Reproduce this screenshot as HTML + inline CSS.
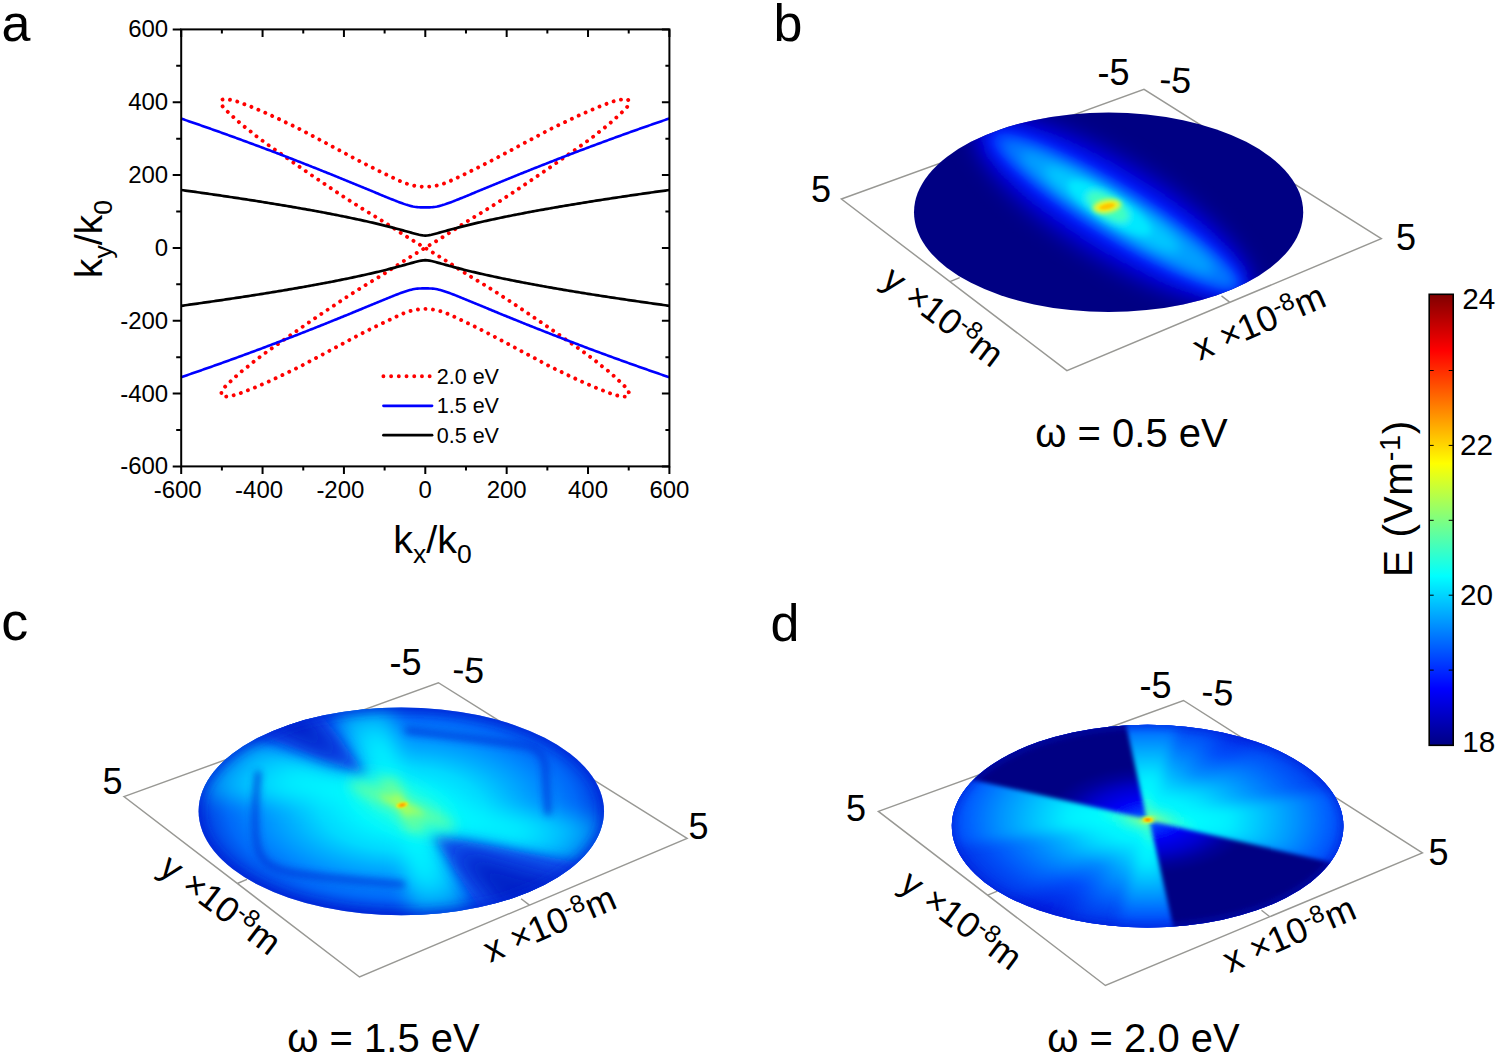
<!DOCTYPE html>
<html><head><meta charset="utf-8"><title>figure</title>
<style>
html,body{margin:0;padding:0;background:#fff;}
body{width:1500px;height:1056px;overflow:hidden;}
svg{display:block;font-family:"Liberation Sans",sans-serif;fill:#000;}
</style></head><body>
<svg width="1500" height="1056" viewBox="0 0 1500 1056">
<rect width="1500" height="1056" fill="#fff"/>

<defs>
<filter id="b2" x="-30%" y="-30%" width="160%" height="160%"><feGaussianBlur stdDeviation="2"/></filter>
<filter id="b3" x="-30%" y="-30%" width="160%" height="160%"><feGaussianBlur stdDeviation="3.5"/></filter>
<filter id="b6" x="-30%" y="-30%" width="160%" height="160%"><feGaussianBlur stdDeviation="6"/></filter>
<filter id="b10" x="-40%" y="-40%" width="180%" height="180%"><feGaussianBlur stdDeviation="10"/></filter>
<filter id="b16" x="-50%" y="-50%" width="200%" height="200%"><feGaussianBlur stdDeviation="16"/></filter>
<filter id="b1" x="-30%" y="-30%" width="160%" height="160%"><feGaussianBlur stdDeviation="1"/></filter>
<clipPath id="clb"><ellipse cx="1108.6" cy="212.3" rx="194.6" ry="99.7"/></clipPath>
<clipPath id="clc"><ellipse cx="401.3" cy="811.3" rx="202.7" ry="103.9"/></clipPath>
<clipPath id="cld"><ellipse cx="1147.6" cy="826.1" rx="195.8" ry="101.3"/></clipPath>
<linearGradient id="jet" x1="0" y1="1" x2="0" y2="0">
<stop offset="0" stop-color="#000083"/><stop offset="0.125" stop-color="#0000ff"/><stop offset="0.375" stop-color="#00ffff"/>
<stop offset="0.625" stop-color="#ffff00"/><stop offset="0.875" stop-color="#ff0000"/><stop offset="1" stop-color="#800000"/>
</linearGradient>

<radialGradient id="cA" gradientUnits="userSpaceOnUse" cx="0" cy="0" r="205" gradientTransform="translate(402.1 809.1) scale(1 0.5126)">
<stop offset="0" stop-color="#00ffff"/><stop offset="0.22" stop-color="#00f4ff"/><stop offset="0.4" stop-color="#00d8ff"/><stop offset="0.55" stop-color="#00b0ff"/><stop offset="0.7" stop-color="#008cff"/><stop offset="0.85" stop-color="#0068f8"/><stop offset="0.95" stop-color="#0046e6"/><stop offset="1" stop-color="#0030dc"/>
</radialGradient>
<radialGradient id="cB" gradientUnits="userSpaceOnUse" cx="0" cy="0" r="205" gradientTransform="translate(402.1 809.1) scale(1 0.5126)">
<stop offset="0" stop-color="#40ffd0"/><stop offset="0.25" stop-color="#00ffff"/><stop offset="0.62" stop-color="#00ecff"/><stop offset="0.85" stop-color="#00b8ff"/><stop offset="1" stop-color="#0070f0"/>
</radialGradient>

<radialGradient id="dA" gradientUnits="userSpaceOnUse" cx="0" cy="0" r="200" gradientTransform="translate(1148.0 819.8) scale(1 0.517)">
<stop offset="0" stop-color="#80ff90"/><stop offset="0.1" stop-color="#30ffd0"/><stop offset="0.18" stop-color="#00ffff"/><stop offset="0.4" stop-color="#00f0ff"/><stop offset="0.58" stop-color="#00c0ff"/><stop offset="0.75" stop-color="#0090ff"/><stop offset="0.9" stop-color="#0060ff"/><stop offset="1" stop-color="#0040f4"/>
</radialGradient>
<radialGradient id="dB" gradientUnits="userSpaceOnUse" cx="0" cy="0" r="200" gradientTransform="translate(1148.0 819.8) scale(1 0.517)">
<stop offset="0" stop-color="#00ffff"/><stop offset="0.28" stop-color="#00f0ff"/><stop offset="0.42" stop-color="#00c0ff"/><stop offset="0.58" stop-color="#0090ff"/><stop offset="0.8" stop-color="#0058fc"/><stop offset="1" stop-color="#0030e8"/>
</radialGradient>
<radialGradient id="dC" gradientUnits="userSpaceOnUse" cx="0" cy="0" r="200" gradientTransform="translate(1148.0 819.8) scale(1 0.517)">
<stop offset="0" stop-color="#00ffff"/><stop offset="0.22" stop-color="#00f0ff"/><stop offset="0.36" stop-color="#00b8ff"/><stop offset="0.5" stop-color="#0080ff"/><stop offset="0.72" stop-color="#0048fa"/><stop offset="1" stop-color="#0020e0"/>
</radialGradient>
<radialGradient id="dW" gradientUnits="userSpaceOnUse" cx="0" cy="0" r="200" gradientTransform="translate(1148.0 819.8) scale(1 0.517)">
<stop offset="0" stop-color="#0080ff"/><stop offset="0.08" stop-color="#0038ff"/><stop offset="0.19" stop-color="#0004f6"/><stop offset="0.31" stop-color="#0000d0"/><stop offset="0.43" stop-color="#00009a"/><stop offset="0.52" stop-color="#000083"/>
</radialGradient>
</defs>


<g id="pa">
<g fill="none" stroke-linejoin="round">
<path d="M221.30,101.30 L222.24,99.64 L224.03,99.10 L225.89,99.18 L227.77,99.39 L229.66,99.68 L231.52,100.00 L233.36,100.39 L235.18,100.90 L236.99,101.47 L238.78,102.06 L240.56,102.68 L242.32,103.35 L244.08,104.05 L245.83,104.74 L247.60,105.41 L249.36,106.08 L251.12,106.75 L252.87,107.45 L254.62,108.17 L256.35,108.91 L258.08,109.67 L259.81,110.42 L261.54,111.16 L263.28,111.89 L265.02,112.63 L266.75,113.39 L268.46,114.16 L270.18,114.95 L271.88,115.75 L273.59,116.56 L275.30,117.36 L277.01,118.16 L278.71,118.96 L280.42,119.77 L282.12,120.59 L283.81,121.41 L285.51,122.24 L287.21,123.06 L288.91,123.87 L290.62,124.67 L292.33,125.46 L294.03,126.27 L295.72,127.11 L297.41,127.95 L299.09,128.81 L300.77,129.67 L302.44,130.54 L304.11,131.42 L305.77,132.30 L307.44,133.19 L309.10,134.08 L310.76,134.98 L312.42,135.87 L314.08,136.77 L315.75,137.66 L317.41,138.56 L319.07,139.45 L320.73,140.33 L322.40,141.22 L324.07,142.10 L325.73,142.99 L327.39,143.88 L329.06,144.77 L330.72,145.66 L332.38,146.56 L334.04,147.45 L335.70,148.35 L337.36,149.24 L339.02,150.14 L340.68,151.03 L342.34,151.93 L344.00,152.82 L345.67,153.72 L347.33,154.61 L348.99,155.50 L350.65,156.39 L352.32,157.28 L353.98,158.16 L355.65,159.05 L357.32,159.93 L358.99,160.80 L360.66,161.67 L362.33,162.54 L364.01,163.41 L365.69,164.27 L367.36,165.13 L369.05,165.98 L370.73,166.83 L372.42,167.67 L374.10,168.52 L375.79,169.36 L377.48,170.19 L379.18,171.02 L380.87,171.85 L382.57,172.68 L384.26,173.50 L385.96,174.32 L387.66,175.14 L389.36,175.95 L391.07,176.76 L392.77,177.57 L394.48,178.37 L396.19,179.18 L397.89,179.99 L399.60,180.79 L401.32,181.55 L403.07,182.27 L404.83,182.96 L406.60,183.62 L408.39,184.22 L410.19,184.73 L412.02,185.21 L413.86,185.65 L415.72,186.01 L417.58,186.27 L419.45,186.49 L421.32,186.68 L423.21,186.82 L425.10,186.90 L426.99,186.82 L428.88,186.68 L430.75,186.49 L432.62,186.27 L434.48,186.01 L436.34,185.65 L438.18,185.21 L440.01,184.73 L441.81,184.22 L443.60,183.62 L445.37,182.96 L447.13,182.27 L448.88,181.55 L450.60,180.79 L452.31,179.99 L454.01,179.18 L455.72,178.37 L457.43,177.57 L459.13,176.76 L460.84,175.95 L462.54,175.14 L464.24,174.32 L465.94,173.50 L467.63,172.68 L469.33,171.85 L471.02,171.02 L472.72,170.19 L474.41,169.36 L476.10,168.52 L477.78,167.67 L479.47,166.83 L481.15,165.98 L482.84,165.13 L484.51,164.27 L486.19,163.41 L487.87,162.54 L489.54,161.67 L491.21,160.80 L492.88,159.93 L494.55,159.05 L496.22,158.16 L497.88,157.28 L499.55,156.39 L501.21,155.50 L502.87,154.61 L504.53,153.72 L506.20,152.82 L507.86,151.93 L509.52,151.03 L511.18,150.14 L512.84,149.24 L514.50,148.35 L516.16,147.45 L517.82,146.56 L519.48,145.66 L521.14,144.77 L522.81,143.88 L524.47,142.99 L526.13,142.10 L527.80,141.22 L529.47,140.33 L531.13,139.45 L532.79,138.56 L534.45,137.66 L536.12,136.77 L537.78,135.87 L539.44,134.98 L541.10,134.08 L542.76,133.19 L544.43,132.30 L546.09,131.42 L547.76,130.54 L549.43,129.67 L551.11,128.81 L552.79,127.95 L554.48,127.11 L556.17,126.27 L557.87,125.46 L559.58,124.67 L561.29,123.87 L562.99,123.06 L564.69,122.24 L566.39,121.41 L568.08,120.59 L569.78,119.77 L571.49,118.96 L573.19,118.16 L574.90,117.36 L576.61,116.56 L578.32,115.75 L580.02,114.95 L581.74,114.16 L583.45,113.39 L585.18,112.63 L586.92,111.89 L588.66,111.16 L590.39,110.42 L592.12,109.67 L593.85,108.91 L595.58,108.17 L597.33,107.45 L599.08,106.75 L600.84,106.08 L602.60,105.41 L604.37,104.74 L606.12,104.05 L607.88,103.35 L609.64,102.68 L611.42,102.06 L613.21,101.47 L615.02,100.90 L616.84,100.39 L618.68,100.00 L620.54,99.68 L622.43,99.39 L624.31,99.18 L626.17,99.10 L627.96,99.64 L628.90,101.30 L628.77,103.46 L628.30,105.36 L627.07,107.08 L625.46,108.71 L623.93,110.29 L622.46,111.80 L620.91,113.26 L619.34,114.71 L617.79,116.16 L616.24,117.62 L614.68,119.06 L613.11,120.49 L611.52,121.90 L609.92,123.30 L608.30,124.67 L606.66,126.01 L604.97,127.31 L603.27,128.58 L601.58,129.87 L599.94,131.22 L598.31,132.59 L596.69,133.96 L595.03,135.29 L593.35,136.58 L591.64,137.84 L589.93,139.11 L588.23,140.37 L586.52,141.64 L584.81,142.90 L583.09,144.15 L581.36,145.38 L579.63,146.60 L577.88,147.82 L576.15,149.04 L574.41,150.26 L572.67,151.48 L570.93,152.70 L569.19,153.92 L567.45,155.15 L565.71,156.37 L563.98,157.59 L562.24,158.81 L560.50,160.03 L558.76,161.25 L557.02,162.47 L555.28,163.68 L553.53,164.90 L551.79,166.11 L550.05,167.33 L548.30,168.54 L546.56,169.75 L544.81,170.96 L543.06,172.16 L541.31,173.37 L539.56,174.57 L537.81,175.77 L536.05,176.96 L534.29,178.16 L532.54,179.35 L530.78,180.54 L529.02,181.73 L527.26,182.92 L525.50,184.10 L523.73,185.29 L521.97,186.48 L520.20,187.66 L518.44,188.84 L516.67,190.02 L514.90,191.20 L513.14,192.38 L511.36,193.55 L509.59,194.72 L507.82,195.89 L506.04,197.06 L504.27,198.22 L502.49,199.39 L500.71,200.54 L498.92,201.70 L497.14,202.85 L495.35,204.00 L493.56,205.14 L491.77,206.28 L489.98,207.42 L488.18,208.55 L486.38,209.67 L484.57,210.78 L482.75,211.89 L480.93,212.98 L479.11,214.08 L477.29,215.17 L475.47,216.27 L473.65,217.37 L471.84,218.48 L470.03,219.59 L468.23,220.72 L466.44,221.86 L464.64,223.00 L462.86,224.14 L461.07,225.30 L459.29,226.45 L457.51,227.61 L455.72,228.77 L453.94,229.92 L452.16,231.08 L450.38,232.24 L448.59,233.39 L446.80,234.53 L445.01,235.68 L443.22,236.81 L441.42,237.94 L439.61,239.06 L437.81,240.18 L436.00,241.29 L434.19,242.40 L432.37,243.51 L430.56,244.61 L428.74,245.71 L426.92,246.81 L425.10,247.90 L423.28,248.99 L421.46,250.09 L419.64,251.19 L417.83,252.29 L416.01,253.40 L414.20,254.51 L412.39,255.62 L410.59,256.74 L408.78,257.86 L406.98,258.99 L405.19,260.12 L403.40,261.27 L401.61,262.41 L399.82,263.56 L398.04,264.72 L396.26,265.88 L394.48,267.03 L392.69,268.19 L390.91,269.35 L389.13,270.50 L387.34,271.66 L385.56,272.80 L383.76,273.94 L381.97,275.08 L380.17,276.21 L378.36,277.32 L376.55,278.43 L374.73,279.53 L372.91,280.63 L371.09,281.72 L369.27,282.82 L367.45,283.91 L365.63,285.02 L363.82,286.13 L362.02,287.25 L360.22,288.38 L358.43,289.52 L356.64,290.66 L354.85,291.80 L353.06,292.95 L351.28,294.10 L349.49,295.26 L347.71,296.41 L345.93,297.58 L344.16,298.74 L342.38,299.91 L340.61,301.08 L338.84,302.25 L337.06,303.42 L335.30,304.60 L333.53,305.78 L331.76,306.96 L330.00,308.14 L328.23,309.32 L326.47,310.51 L324.70,311.70 L322.94,312.88 L321.18,314.07 L319.42,315.26 L317.66,316.45 L315.91,317.64 L314.15,318.84 L312.39,320.03 L310.64,321.23 L308.89,322.43 L307.14,323.64 L305.39,324.84 L303.64,326.05 L301.90,327.26 L300.15,328.47 L298.41,329.69 L296.67,330.90 L294.92,332.12 L293.18,333.33 L291.44,334.55 L289.70,335.77 L287.96,336.99 L286.22,338.21 L284.49,339.43 L282.75,340.65 L281.01,341.88 L279.27,343.10 L277.53,344.32 L275.79,345.54 L274.05,346.76 L272.32,347.98 L270.57,349.20 L268.84,350.42 L267.11,351.65 L265.39,352.90 L263.68,354.16 L261.97,355.43 L260.27,356.69 L258.56,357.96 L256.85,359.22 L255.17,360.51 L253.51,361.84 L251.89,363.21 L250.26,364.58 L248.62,365.93 L246.93,367.22 L245.23,368.49 L243.54,369.79 L241.90,371.13 L240.28,372.50 L238.68,373.90 L237.09,375.31 L235.52,376.74 L233.96,378.18 L232.41,379.64 L230.86,381.09 L229.29,382.54 L227.74,384.00 L226.27,385.51 L224.74,387.09 L223.13,388.72 L221.90,390.44 L221.43,392.34 L221.30,394.50 L222.24,396.16 L224.03,396.70 L225.89,396.62 L227.77,396.41 L229.66,396.12 L231.52,395.80 L233.36,395.41 L235.18,394.90 L236.99,394.33 L238.78,393.74 L240.56,393.12 L242.32,392.45 L244.08,391.75 L245.83,391.06 L247.60,390.39 L249.36,389.72 L251.12,389.05 L252.87,388.35 L254.62,387.63 L256.35,386.89 L258.08,386.13 L259.81,385.38 L261.54,384.64 L263.28,383.91 L265.02,383.17 L266.75,382.41 L268.46,381.64 L270.18,380.85 L271.88,380.05 L273.59,379.24 L275.30,378.44 L277.01,377.64 L278.71,376.84 L280.42,376.03 L282.12,375.21 L283.81,374.39 L285.51,373.56 L287.21,372.74 L288.91,371.93 L290.62,371.13 L292.33,370.34 L294.03,369.53 L295.72,368.69 L297.41,367.85 L299.09,366.99 L300.77,366.13 L302.44,365.26 L304.11,364.38 L305.77,363.50 L307.44,362.61 L309.10,361.72 L310.76,360.82 L312.42,359.93 L314.08,359.03 L315.75,358.14 L317.41,357.24 L319.07,356.35 L320.73,355.47 L322.40,354.58 L324.07,353.70 L325.73,352.81 L327.39,351.92 L329.06,351.03 L330.72,350.14 L332.38,349.24 L334.04,348.35 L335.70,347.45 L337.36,346.56 L339.02,345.66 L340.68,344.77 L342.34,343.87 L344.00,342.98 L345.67,342.08 L347.33,341.19 L348.99,340.30 L350.65,339.41 L352.32,338.52 L353.98,337.64 L355.65,336.75 L357.32,335.87 L358.99,335.00 L360.66,334.13 L362.33,333.26 L364.01,332.39 L365.69,331.53 L367.36,330.67 L369.05,329.82 L370.73,328.97 L372.42,328.13 L374.10,327.28 L375.79,326.44 L377.48,325.61 L379.18,324.78 L380.87,323.95 L382.57,323.12 L384.26,322.30 L385.96,321.48 L387.66,320.66 L389.36,319.85 L391.07,319.04 L392.77,318.23 L394.48,317.43 L396.19,316.62 L397.89,315.81 L399.60,315.01 L401.32,314.25 L403.07,313.53 L404.83,312.84 L406.60,312.18 L408.39,311.58 L410.19,311.07 L412.02,310.59 L413.86,310.15 L415.72,309.79 L417.58,309.53 L419.45,309.31 L421.32,309.12 L423.21,308.98 L425.10,308.90 L426.99,308.98 L428.88,309.12 L430.75,309.31 L432.62,309.53 L434.48,309.79 L436.34,310.15 L438.18,310.59 L440.01,311.07 L441.81,311.58 L443.60,312.18 L445.37,312.84 L447.13,313.53 L448.88,314.25 L450.60,315.01 L452.31,315.81 L454.01,316.62 L455.72,317.43 L457.43,318.23 L459.13,319.04 L460.84,319.85 L462.54,320.66 L464.24,321.48 L465.94,322.30 L467.63,323.12 L469.33,323.95 L471.02,324.78 L472.72,325.61 L474.41,326.44 L476.10,327.28 L477.78,328.13 L479.47,328.97 L481.15,329.82 L482.84,330.67 L484.51,331.53 L486.19,332.39 L487.87,333.26 L489.54,334.13 L491.21,335.00 L492.88,335.87 L494.55,336.75 L496.22,337.64 L497.88,338.52 L499.55,339.41 L501.21,340.30 L502.87,341.19 L504.53,342.08 L506.20,342.98 L507.86,343.87 L509.52,344.77 L511.18,345.66 L512.84,346.56 L514.50,347.45 L516.16,348.35 L517.82,349.24 L519.48,350.14 L521.14,351.03 L522.81,351.92 L524.47,352.81 L526.13,353.70 L527.80,354.58 L529.47,355.47 L531.13,356.35 L532.79,357.24 L534.45,358.14 L536.12,359.03 L537.78,359.93 L539.44,360.82 L541.10,361.72 L542.76,362.61 L544.43,363.50 L546.09,364.38 L547.76,365.26 L549.43,366.13 L551.11,366.99 L552.79,367.85 L554.48,368.69 L556.17,369.53 L557.87,370.34 L559.58,371.13 L561.29,371.93 L562.99,372.74 L564.69,373.56 L566.39,374.39 L568.08,375.21 L569.78,376.03 L571.49,376.84 L573.19,377.64 L574.90,378.44 L576.61,379.24 L578.32,380.05 L580.02,380.85 L581.74,381.64 L583.45,382.41 L585.18,383.17 L586.92,383.91 L588.66,384.64 L590.39,385.38 L592.12,386.13 L593.85,386.89 L595.58,387.63 L597.33,388.35 L599.08,389.05 L600.84,389.72 L602.60,390.39 L604.37,391.06 L606.12,391.75 L607.88,392.45 L609.64,393.12 L611.42,393.74 L613.21,394.33 L615.02,394.90 L616.84,395.41 L618.68,395.80 L620.54,396.12 L622.43,396.41 L624.31,396.62 L626.17,396.70 L627.96,396.16 L628.90,394.50 L628.77,392.34 L628.30,390.44 L627.07,388.72 L625.46,387.09 L623.93,385.51 L622.46,384.00 L620.91,382.54 L619.34,381.09 L617.79,379.64 L616.24,378.18 L614.68,376.74 L613.11,375.31 L611.52,373.90 L609.92,372.50 L608.30,371.13 L606.66,369.79 L604.97,368.49 L603.27,367.22 L601.58,365.93 L599.94,364.58 L598.31,363.21 L596.69,361.84 L595.03,360.51 L593.35,359.22 L591.64,357.96 L589.93,356.69 L588.23,355.43 L586.52,354.16 L584.81,352.90 L583.09,351.65 L581.36,350.42 L579.63,349.20 L577.88,347.98 L576.15,346.76 L574.41,345.54 L572.67,344.32 L570.93,343.10 L569.19,341.88 L567.45,340.65 L565.71,339.43 L563.98,338.21 L562.24,336.99 L560.50,335.77 L558.76,334.55 L557.02,333.33 L555.28,332.12 L553.53,330.90 L551.79,329.69 L550.05,328.47 L548.30,327.26 L546.56,326.05 L544.81,324.84 L543.06,323.64 L541.31,322.43 L539.56,321.23 L537.81,320.03 L536.05,318.84 L534.29,317.64 L532.54,316.45 L530.78,315.26 L529.02,314.07 L527.26,312.88 L525.50,311.70 L523.73,310.51 L521.97,309.32 L520.20,308.14 L518.44,306.96 L516.67,305.78 L514.90,304.60 L513.14,303.42 L511.36,302.25 L509.59,301.08 L507.82,299.91 L506.04,298.74 L504.27,297.58 L502.49,296.41 L500.71,295.26 L498.92,294.10 L497.14,292.95 L495.35,291.80 L493.56,290.66 L491.77,289.52 L489.98,288.38 L488.18,287.25 L486.38,286.13 L484.57,285.02 L482.75,283.91 L480.93,282.82 L479.11,281.72 L477.29,280.63 L475.47,279.53 L473.65,278.43 L471.84,277.32 L470.03,276.21 L468.23,275.08 L466.44,273.94 L464.64,272.80 L462.86,271.66 L461.07,270.50 L459.29,269.35 L457.51,268.19 L455.72,267.03 L453.94,265.88 L452.16,264.72 L450.38,263.56 L448.59,262.41 L446.80,261.27 L445.01,260.12 L443.22,258.99 L441.42,257.86 L439.61,256.74 L437.81,255.62 L436.00,254.51 L434.19,253.40 L432.37,252.29 L430.56,251.19 L428.74,250.09 L426.92,248.99 L425.10,247.90 L423.28,246.81 L421.46,245.71 L419.64,244.61 L417.83,243.51 L416.01,242.40 L414.20,241.29 L412.39,240.18 L410.59,239.06 L408.78,237.94 L406.98,236.81 L405.19,235.68 L403.40,234.53 L401.61,233.39 L399.82,232.24 L398.04,231.08 L396.26,229.92 L394.48,228.77 L392.69,227.61 L390.91,226.45 L389.13,225.30 L387.34,224.14 L385.56,223.00 L383.76,221.86 L381.97,220.72 L380.17,219.59 L378.36,218.48 L376.55,217.37 L374.73,216.27 L372.91,215.17 L371.09,214.08 L369.27,212.98 L367.45,211.89 L365.63,210.78 L363.82,209.67 L362.02,208.55 L360.22,207.42 L358.43,206.28 L356.64,205.14 L354.85,204.00 L353.06,202.85 L351.28,201.70 L349.49,200.54 L347.71,199.39 L345.93,198.22 L344.16,197.06 L342.38,195.89 L340.61,194.72 L338.84,193.55 L337.06,192.38 L335.30,191.20 L333.53,190.02 L331.76,188.84 L330.00,187.66 L328.23,186.48 L326.47,185.29 L324.70,184.10 L322.94,182.92 L321.18,181.73 L319.42,180.54 L317.66,179.35 L315.91,178.16 L314.15,176.96 L312.39,175.77 L310.64,174.57 L308.89,173.37 L307.14,172.16 L305.39,170.96 L303.64,169.75 L301.90,168.54 L300.15,167.33 L298.41,166.11 L296.67,164.90 L294.92,163.68 L293.18,162.47 L291.44,161.25 L289.70,160.03 L287.96,158.81 L286.22,157.59 L284.49,156.37 L282.75,155.15 L281.01,153.92 L279.27,152.70 L277.53,151.48 L275.79,150.26 L274.05,149.04 L272.32,147.82 L270.57,146.60 L268.84,145.38 L267.11,144.15 L265.39,142.90 L263.68,141.64 L261.97,140.37 L260.27,139.11 L258.56,137.84 L256.85,136.58 L255.17,135.29 L253.51,133.96 L251.89,132.59 L250.26,131.22 L248.62,129.87 L246.93,128.58 L245.23,127.31 L243.54,126.01 L241.90,124.67 L240.28,123.30 L238.68,121.90 L237.09,120.49 L235.52,119.06 L233.96,117.62 L232.41,116.16 L230.86,114.71 L229.29,113.26 L227.74,111.80 L226.27,110.29 L224.74,108.71 L223.13,107.08 L221.90,105.36 L221.43,103.46 L221.30,101.30Z" stroke="#ff0000" stroke-width="3.9" stroke-linecap="round" stroke-dasharray="0.01 7.5377" stroke-dashoffset="-2.2"/>
<path d="M181.00,118.56 L182.53,119.08 L184.05,119.60 L185.58,120.12 L187.10,120.64 L188.63,121.16 L190.15,121.69 L191.68,122.21 L193.21,122.74 L194.73,123.27 L196.26,123.79 L197.78,124.32 L199.31,124.85 L200.83,125.39 L202.36,125.92 L203.88,126.45 L205.41,126.99 L206.94,127.52 L208.46,128.06 L209.99,128.59 L211.51,129.13 L213.04,129.67 L214.56,130.21 L216.09,130.75 L217.62,131.30 L219.14,131.84 L220.67,132.38 L222.19,132.93 L223.72,133.47 L225.24,134.02 L226.77,134.57 L228.29,135.12 L229.82,135.67 L231.35,136.22 L232.87,136.77 L234.40,137.33 L235.92,137.88 L237.45,138.44 L238.97,138.99 L240.50,139.55 L242.03,140.11 L243.55,140.67 L245.08,141.23 L246.60,141.79 L248.13,142.35 L249.65,142.91 L251.18,143.48 L252.70,144.04 L254.23,144.61 L255.76,145.17 L257.28,145.74 L258.81,146.31 L260.33,146.88 L261.86,147.45 L263.38,148.03 L264.91,148.60 L266.44,149.17 L267.96,149.75 L269.49,150.32 L271.01,150.90 L272.54,151.48 L274.06,152.06 L275.59,152.64 L277.11,153.22 L278.64,153.80 L280.17,154.38 L281.69,154.97 L283.22,155.55 L284.74,156.14 L286.27,156.72 L287.79,157.31 L289.32,157.90 L290.85,158.49 L292.37,159.08 L293.90,159.67 L295.42,160.26 L296.95,160.86 L298.47,161.45 L300.00,162.05 L301.52,162.64 L303.05,163.24 L304.58,163.84 L306.10,164.44 L307.63,165.04 L309.15,165.64 L310.68,166.24 L312.20,166.85 L313.73,167.45 L315.25,168.06 L316.78,168.66 L318.31,169.27 L319.83,169.88 L321.36,170.49 L322.88,171.10 L324.41,171.71 L325.93,172.32 L327.46,172.93 L328.99,173.54 L330.51,174.16 L332.04,174.77 L333.56,175.39 L335.09,176.01 L336.61,176.62 L338.14,177.24 L339.67,177.86 L341.19,178.48 L342.72,179.10 L344.24,179.73 L345.77,180.35 L347.29,180.97 L348.82,181.60 L350.34,182.22 L351.87,182.85 L353.40,183.48 L354.92,184.10 L356.45,184.73 L357.97,185.36 L359.50,185.99 L361.02,186.62 L362.55,187.25 L364.08,187.88 L365.60,188.51 L367.13,189.14 L368.65,189.77 L370.18,190.41 L371.70,191.04 L373.23,191.67 L374.75,192.30 L376.28,192.94 L377.81,193.57 L379.33,194.20 L380.86,194.83 L382.38,195.46 L383.91,196.09 L385.43,196.71 L386.96,197.34 L388.49,197.96 L390.01,198.58 L391.54,199.19 L393.06,199.81 L394.59,200.41 L396.11,201.01 L397.64,201.60 L399.16,202.18 L400.69,202.75 L402.22,203.31 L403.74,203.85 L405.27,204.36 L406.79,204.86 L408.32,205.32 L409.84,205.74 L411.37,206.13 L412.90,206.46 L414.42,206.74 L415.95,206.97 L417.47,207.15 L419.00,207.27 L420.52,207.34 L422.05,207.38 L423.57,207.40 L425.10,207.40 L426.63,207.40 L428.15,207.38 L429.68,207.34 L431.20,207.27 L432.73,207.15 L434.25,206.97 L435.78,206.74 L437.31,206.46 L438.83,206.13 L440.36,205.74 L441.88,205.32 L443.41,204.86 L444.93,204.36 L446.46,203.85 L447.98,203.31 L449.51,202.75 L451.04,202.18 L452.56,201.60 L454.09,201.01 L455.61,200.41 L457.14,199.81 L458.66,199.19 L460.19,198.58 L461.72,197.96 L463.24,197.34 L464.77,196.71 L466.29,196.09 L467.82,195.46 L469.34,194.83 L470.87,194.20 L472.39,193.57 L473.92,192.94 L475.45,192.30 L476.97,191.67 L478.50,191.04 L480.02,190.41 L481.55,189.77 L483.07,189.14 L484.60,188.51 L486.12,187.88 L487.65,187.25 L489.18,186.62 L490.70,185.99 L492.23,185.36 L493.75,184.73 L495.28,184.10 L496.80,183.48 L498.33,182.85 L499.86,182.22 L501.38,181.60 L502.91,180.97 L504.43,180.35 L505.96,179.73 L507.48,179.10 L509.01,178.48 L510.54,177.86 L512.06,177.24 L513.59,176.62 L515.11,176.01 L516.64,175.39 L518.16,174.77 L519.69,174.16 L521.21,173.54 L522.74,172.93 L524.27,172.32 L525.79,171.71 L527.32,171.10 L528.84,170.49 L530.37,169.88 L531.89,169.27 L533.42,168.66 L534.95,168.06 L536.47,167.45 L538.00,166.85 L539.52,166.24 L541.05,165.64 L542.57,165.04 L544.10,164.44 L545.62,163.84 L547.15,163.24 L548.68,162.64 L550.20,162.05 L551.73,161.45 L553.25,160.86 L554.78,160.26 L556.30,159.67 L557.83,159.08 L559.36,158.49 L560.88,157.90 L562.41,157.31 L563.93,156.72 L565.46,156.14 L566.98,155.55 L568.51,154.97 L570.03,154.38 L571.56,153.80 L573.09,153.22 L574.61,152.64 L576.14,152.06 L577.66,151.48 L579.19,150.90 L580.71,150.32 L582.24,149.75 L583.76,149.17 L585.29,148.60 L586.82,148.03 L588.34,147.45 L589.87,146.88 L591.39,146.31 L592.92,145.74 L594.44,145.17 L595.97,144.61 L597.50,144.04 L599.02,143.48 L600.55,142.91 L602.07,142.35 L603.60,141.79 L605.12,141.23 L606.65,140.67 L608.18,140.11 L609.70,139.55 L611.23,138.99 L612.75,138.44 L614.28,137.88 L615.80,137.33 L617.33,136.77 L618.85,136.22 L620.38,135.67 L621.91,135.12 L623.43,134.57 L624.96,134.02 L626.48,133.47 L628.01,132.93 L629.53,132.38 L631.06,131.84 L632.59,131.30 L634.11,130.75 L635.64,130.21 L637.16,129.67 L638.69,129.13 L640.21,128.59 L641.74,128.06 L643.26,127.52 L644.79,126.99 L646.32,126.45 L647.84,125.92 L649.37,125.39 L650.89,124.85 L652.42,124.32 L653.94,123.79 L655.47,123.27 L657.00,122.74 L658.52,122.21 L660.05,121.69 L661.57,121.16 L663.10,120.64 L664.62,120.12 L666.15,119.60 L667.67,119.08 L669.20,118.56" stroke="#0000ff" stroke-width="2.6"/>
<path d="M181.00,377.24 L182.53,376.72 L184.05,376.20 L185.58,375.68 L187.10,375.16 L188.63,374.64 L190.15,374.11 L191.68,373.59 L193.21,373.06 L194.73,372.53 L196.26,372.01 L197.78,371.48 L199.31,370.95 L200.83,370.41 L202.36,369.88 L203.88,369.35 L205.41,368.81 L206.94,368.28 L208.46,367.74 L209.99,367.21 L211.51,366.67 L213.04,366.13 L214.56,365.59 L216.09,365.05 L217.62,364.50 L219.14,363.96 L220.67,363.42 L222.19,362.87 L223.72,362.33 L225.24,361.78 L226.77,361.23 L228.29,360.68 L229.82,360.13 L231.35,359.58 L232.87,359.03 L234.40,358.47 L235.92,357.92 L237.45,357.36 L238.97,356.81 L240.50,356.25 L242.03,355.69 L243.55,355.13 L245.08,354.57 L246.60,354.01 L248.13,353.45 L249.65,352.89 L251.18,352.32 L252.70,351.76 L254.23,351.19 L255.76,350.63 L257.28,350.06 L258.81,349.49 L260.33,348.92 L261.86,348.35 L263.38,347.77 L264.91,347.20 L266.44,346.63 L267.96,346.05 L269.49,345.48 L271.01,344.90 L272.54,344.32 L274.06,343.74 L275.59,343.16 L277.11,342.58 L278.64,342.00 L280.17,341.42 L281.69,340.83 L283.22,340.25 L284.74,339.66 L286.27,339.08 L287.79,338.49 L289.32,337.90 L290.85,337.31 L292.37,336.72 L293.90,336.13 L295.42,335.54 L296.95,334.94 L298.47,334.35 L300.00,333.75 L301.52,333.16 L303.05,332.56 L304.58,331.96 L306.10,331.36 L307.63,330.76 L309.15,330.16 L310.68,329.56 L312.20,328.95 L313.73,328.35 L315.25,327.74 L316.78,327.14 L318.31,326.53 L319.83,325.92 L321.36,325.31 L322.88,324.70 L324.41,324.09 L325.93,323.48 L327.46,322.87 L328.99,322.26 L330.51,321.64 L332.04,321.03 L333.56,320.41 L335.09,319.79 L336.61,319.18 L338.14,318.56 L339.67,317.94 L341.19,317.32 L342.72,316.70 L344.24,316.07 L345.77,315.45 L347.29,314.83 L348.82,314.20 L350.34,313.58 L351.87,312.95 L353.40,312.32 L354.92,311.70 L356.45,311.07 L357.97,310.44 L359.50,309.81 L361.02,309.18 L362.55,308.55 L364.08,307.92 L365.60,307.29 L367.13,306.66 L368.65,306.03 L370.18,305.39 L371.70,304.76 L373.23,304.13 L374.75,303.50 L376.28,302.86 L377.81,302.23 L379.33,301.60 L380.86,300.97 L382.38,300.34 L383.91,299.71 L385.43,299.09 L386.96,298.46 L388.49,297.84 L390.01,297.22 L391.54,296.61 L393.06,295.99 L394.59,295.39 L396.11,294.79 L397.64,294.20 L399.16,293.62 L400.69,293.05 L402.22,292.49 L403.74,291.95 L405.27,291.44 L406.79,290.94 L408.32,290.48 L409.84,290.06 L411.37,289.67 L412.90,289.34 L414.42,289.06 L415.95,288.83 L417.47,288.65 L419.00,288.53 L420.52,288.46 L422.05,288.42 L423.57,288.40 L425.10,288.40 L426.63,288.40 L428.15,288.42 L429.68,288.46 L431.20,288.53 L432.73,288.65 L434.25,288.83 L435.78,289.06 L437.31,289.34 L438.83,289.67 L440.36,290.06 L441.88,290.48 L443.41,290.94 L444.93,291.44 L446.46,291.95 L447.98,292.49 L449.51,293.05 L451.04,293.62 L452.56,294.20 L454.09,294.79 L455.61,295.39 L457.14,295.99 L458.66,296.61 L460.19,297.22 L461.72,297.84 L463.24,298.46 L464.77,299.09 L466.29,299.71 L467.82,300.34 L469.34,300.97 L470.87,301.60 L472.39,302.23 L473.92,302.86 L475.45,303.50 L476.97,304.13 L478.50,304.76 L480.02,305.39 L481.55,306.03 L483.07,306.66 L484.60,307.29 L486.12,307.92 L487.65,308.55 L489.18,309.18 L490.70,309.81 L492.23,310.44 L493.75,311.07 L495.28,311.70 L496.80,312.32 L498.33,312.95 L499.86,313.58 L501.38,314.20 L502.91,314.83 L504.43,315.45 L505.96,316.07 L507.48,316.70 L509.01,317.32 L510.54,317.94 L512.06,318.56 L513.59,319.18 L515.11,319.79 L516.64,320.41 L518.16,321.03 L519.69,321.64 L521.21,322.26 L522.74,322.87 L524.27,323.48 L525.79,324.09 L527.32,324.70 L528.84,325.31 L530.37,325.92 L531.89,326.53 L533.42,327.14 L534.95,327.74 L536.47,328.35 L538.00,328.95 L539.52,329.56 L541.05,330.16 L542.57,330.76 L544.10,331.36 L545.62,331.96 L547.15,332.56 L548.68,333.16 L550.20,333.75 L551.73,334.35 L553.25,334.94 L554.78,335.54 L556.30,336.13 L557.83,336.72 L559.36,337.31 L560.88,337.90 L562.41,338.49 L563.93,339.08 L565.46,339.66 L566.98,340.25 L568.51,340.83 L570.03,341.42 L571.56,342.00 L573.09,342.58 L574.61,343.16 L576.14,343.74 L577.66,344.32 L579.19,344.90 L580.71,345.48 L582.24,346.05 L583.76,346.63 L585.29,347.20 L586.82,347.77 L588.34,348.35 L589.87,348.92 L591.39,349.49 L592.92,350.06 L594.44,350.63 L595.97,351.19 L597.50,351.76 L599.02,352.32 L600.55,352.89 L602.07,353.45 L603.60,354.01 L605.12,354.57 L606.65,355.13 L608.18,355.69 L609.70,356.25 L611.23,356.81 L612.75,357.36 L614.28,357.92 L615.80,358.47 L617.33,359.03 L618.85,359.58 L620.38,360.13 L621.91,360.68 L623.43,361.23 L624.96,361.78 L626.48,362.33 L628.01,362.87 L629.53,363.42 L631.06,363.96 L632.59,364.50 L634.11,365.05 L635.64,365.59 L637.16,366.13 L638.69,366.67 L640.21,367.21 L641.74,367.74 L643.26,368.28 L644.79,368.81 L646.32,369.35 L647.84,369.88 L649.37,370.41 L650.89,370.95 L652.42,371.48 L653.94,372.01 L655.47,372.53 L657.00,373.06 L658.52,373.59 L660.05,374.11 L661.57,374.64 L663.10,375.16 L664.62,375.68 L666.15,376.20 L667.67,376.72 L669.20,377.24" stroke="#0000ff" stroke-width="2.6"/>
<path d="M181.20,189.98 L183.23,190.26 L185.27,190.54 L187.30,190.82 L189.34,191.11 L191.37,191.39 L193.40,191.67 L195.44,191.96 L197.47,192.25 L199.51,192.53 L201.54,192.82 L203.58,193.11 L205.61,193.40 L207.64,193.69 L209.68,193.98 L211.71,194.28 L213.75,194.57 L215.78,194.87 L217.81,195.16 L219.85,195.46 L221.88,195.76 L223.92,196.06 L225.95,196.36 L227.99,196.66 L230.02,196.97 L232.05,197.27 L234.09,197.58 L236.12,197.88 L238.16,198.19 L240.19,198.50 L242.22,198.81 L244.26,199.12 L246.29,199.44 L248.33,199.75 L250.36,200.07 L252.40,200.38 L254.43,200.70 L256.46,201.02 L258.50,201.34 L260.53,201.67 L262.57,201.99 L264.60,202.32 L266.63,202.64 L268.67,202.97 L270.70,203.30 L272.74,203.63 L274.77,203.97 L276.81,204.30 L278.84,204.64 L280.87,204.98 L282.91,205.32 L284.94,205.66 L286.98,206.00 L289.01,206.35 L291.04,206.70 L293.08,207.05 L295.11,207.40 L297.15,207.75 L299.18,208.11 L301.22,208.46 L303.25,208.82 L305.28,209.18 L307.32,209.55 L309.35,209.91 L311.39,210.28 L313.42,210.65 L315.45,211.02 L317.49,211.40 L319.52,211.78 L321.56,212.16 L323.59,212.54 L325.63,212.92 L327.66,213.31 L329.69,213.70 L331.73,214.10 L333.76,214.49 L335.80,214.89 L337.83,215.29 L339.86,215.70 L341.90,216.11 L343.93,216.52 L345.97,216.93 L348.00,217.35 L350.04,217.77 L352.07,218.20 L354.10,218.63 L356.14,219.06 L358.17,219.50 L360.21,219.94 L362.24,220.39 L364.27,220.84 L366.31,221.29 L368.34,221.75 L370.38,222.21 L372.41,222.68 L374.45,223.15 L376.48,223.63 L378.51,224.11 L380.55,224.60 L382.58,225.10 L384.62,225.60 L386.65,226.10 L388.68,226.62 L390.72,227.14 L392.75,227.66 L394.79,228.19 L396.82,228.73 L398.86,229.27 L400.89,229.82 L402.92,230.38 L404.96,230.94 L406.99,231.51 L409.03,232.07 L411.06,232.64 L413.09,233.20 L415.13,233.76 L417.16,234.29 L419.20,234.78 L421.23,235.19 L423.27,235.48 L425.30,235.59 L427.33,235.48 L429.37,235.19 L431.40,234.78 L433.44,234.29 L435.47,233.76 L437.50,233.20 L439.54,232.64 L441.57,232.07 L443.61,231.51 L445.64,230.94 L447.68,230.38 L449.71,229.82 L451.74,229.27 L453.78,228.73 L455.81,228.19 L457.85,227.66 L459.88,227.14 L461.91,226.62 L463.95,226.10 L465.98,225.60 L468.02,225.10 L470.05,224.60 L472.09,224.11 L474.12,223.63 L476.15,223.15 L478.19,222.68 L480.22,222.21 L482.26,221.75 L484.29,221.29 L486.32,220.84 L488.36,220.39 L490.39,219.94 L492.43,219.50 L494.46,219.06 L496.50,218.63 L498.53,218.20 L500.56,217.77 L502.60,217.35 L504.63,216.93 L506.67,216.52 L508.70,216.11 L510.73,215.70 L512.77,215.29 L514.80,214.89 L516.84,214.49 L518.87,214.10 L520.91,213.70 L522.94,213.31 L524.97,212.92 L527.01,212.54 L529.04,212.16 L531.08,211.78 L533.11,211.40 L535.14,211.02 L537.18,210.65 L539.21,210.28 L541.25,209.91 L543.28,209.55 L545.32,209.18 L547.35,208.82 L549.38,208.46 L551.42,208.11 L553.45,207.75 L555.49,207.40 L557.52,207.05 L559.55,206.70 L561.59,206.35 L563.62,206.00 L565.66,205.66 L567.69,205.32 L569.73,204.98 L571.76,204.64 L573.79,204.30 L575.83,203.97 L577.86,203.63 L579.90,203.30 L581.93,202.97 L583.96,202.64 L586.00,202.32 L588.03,201.99 L590.07,201.67 L592.10,201.34 L594.14,201.02 L596.17,200.70 L598.20,200.38 L600.24,200.07 L602.27,199.75 L604.31,199.44 L606.34,199.12 L608.38,198.81 L610.41,198.50 L612.44,198.19 L614.48,197.88 L616.51,197.58 L618.55,197.27 L620.58,196.97 L622.61,196.66 L624.65,196.36 L626.68,196.06 L628.72,195.76 L630.75,195.46 L632.78,195.16 L634.82,194.87 L636.85,194.57 L638.89,194.28 L640.92,193.98 L642.96,193.69 L644.99,193.40 L647.02,193.11 L649.06,192.82 L651.09,192.53 L653.13,192.25 L655.16,191.96 L657.19,191.67 L659.23,191.39 L661.26,191.11 L663.30,190.82 L665.33,190.54 L667.37,190.26 L669.40,189.98" stroke="#000" stroke-width="2.7"/>
<path d="M181.20,305.82 L183.23,305.54 L185.27,305.26 L187.30,304.98 L189.34,304.69 L191.37,304.41 L193.40,304.13 L195.44,303.84 L197.47,303.55 L199.51,303.27 L201.54,302.98 L203.58,302.69 L205.61,302.40 L207.64,302.11 L209.68,301.82 L211.71,301.52 L213.75,301.23 L215.78,300.93 L217.81,300.64 L219.85,300.34 L221.88,300.04 L223.92,299.74 L225.95,299.44 L227.99,299.14 L230.02,298.83 L232.05,298.53 L234.09,298.22 L236.12,297.92 L238.16,297.61 L240.19,297.30 L242.22,296.99 L244.26,296.68 L246.29,296.36 L248.33,296.05 L250.36,295.73 L252.40,295.42 L254.43,295.10 L256.46,294.78 L258.50,294.46 L260.53,294.13 L262.57,293.81 L264.60,293.48 L266.63,293.16 L268.67,292.83 L270.70,292.50 L272.74,292.17 L274.77,291.83 L276.81,291.50 L278.84,291.16 L280.87,290.82 L282.91,290.48 L284.94,290.14 L286.98,289.80 L289.01,289.45 L291.04,289.10 L293.08,288.75 L295.11,288.40 L297.15,288.05 L299.18,287.69 L301.22,287.34 L303.25,286.98 L305.28,286.62 L307.32,286.25 L309.35,285.89 L311.39,285.52 L313.42,285.15 L315.45,284.78 L317.49,284.40 L319.52,284.02 L321.56,283.64 L323.59,283.26 L325.63,282.88 L327.66,282.49 L329.69,282.10 L331.73,281.70 L333.76,281.31 L335.80,280.91 L337.83,280.51 L339.86,280.10 L341.90,279.69 L343.93,279.28 L345.97,278.87 L348.00,278.45 L350.04,278.03 L352.07,277.60 L354.10,277.17 L356.14,276.74 L358.17,276.30 L360.21,275.86 L362.24,275.41 L364.27,274.96 L366.31,274.51 L368.34,274.05 L370.38,273.59 L372.41,273.12 L374.45,272.65 L376.48,272.17 L378.51,271.69 L380.55,271.20 L382.58,270.70 L384.62,270.20 L386.65,269.70 L388.68,269.18 L390.72,268.66 L392.75,268.14 L394.79,267.61 L396.82,267.07 L398.86,266.53 L400.89,265.98 L402.92,265.42 L404.96,264.86 L406.99,264.29 L409.03,263.73 L411.06,263.16 L413.09,262.60 L415.13,262.04 L417.16,261.51 L419.20,261.02 L421.23,260.61 L423.27,260.32 L425.30,260.21 L427.33,260.32 L429.37,260.61 L431.40,261.02 L433.44,261.51 L435.47,262.04 L437.50,262.60 L439.54,263.16 L441.57,263.73 L443.61,264.29 L445.64,264.86 L447.68,265.42 L449.71,265.98 L451.74,266.53 L453.78,267.07 L455.81,267.61 L457.85,268.14 L459.88,268.66 L461.91,269.18 L463.95,269.70 L465.98,270.20 L468.02,270.70 L470.05,271.20 L472.09,271.69 L474.12,272.17 L476.15,272.65 L478.19,273.12 L480.22,273.59 L482.26,274.05 L484.29,274.51 L486.32,274.96 L488.36,275.41 L490.39,275.86 L492.43,276.30 L494.46,276.74 L496.50,277.17 L498.53,277.60 L500.56,278.03 L502.60,278.45 L504.63,278.87 L506.67,279.28 L508.70,279.69 L510.73,280.10 L512.77,280.51 L514.80,280.91 L516.84,281.31 L518.87,281.70 L520.91,282.10 L522.94,282.49 L524.97,282.88 L527.01,283.26 L529.04,283.64 L531.08,284.02 L533.11,284.40 L535.14,284.78 L537.18,285.15 L539.21,285.52 L541.25,285.89 L543.28,286.25 L545.32,286.62 L547.35,286.98 L549.38,287.34 L551.42,287.69 L553.45,288.05 L555.49,288.40 L557.52,288.75 L559.55,289.10 L561.59,289.45 L563.62,289.80 L565.66,290.14 L567.69,290.48 L569.73,290.82 L571.76,291.16 L573.79,291.50 L575.83,291.83 L577.86,292.17 L579.90,292.50 L581.93,292.83 L583.96,293.16 L586.00,293.48 L588.03,293.81 L590.07,294.13 L592.10,294.46 L594.14,294.78 L596.17,295.10 L598.20,295.42 L600.24,295.73 L602.27,296.05 L604.31,296.36 L606.34,296.68 L608.38,296.99 L610.41,297.30 L612.44,297.61 L614.48,297.92 L616.51,298.22 L618.55,298.53 L620.58,298.83 L622.61,299.14 L624.65,299.44 L626.68,299.74 L628.72,300.04 L630.75,300.34 L632.78,300.64 L634.82,300.93 L636.85,301.23 L638.89,301.52 L640.92,301.82 L642.96,302.11 L644.99,302.40 L647.02,302.69 L649.06,302.98 L651.09,303.27 L653.13,303.55 L655.16,303.84 L657.19,304.13 L659.23,304.41 L661.26,304.69 L663.30,304.98 L665.33,305.26 L667.37,305.54 L669.40,305.82" stroke="#000" stroke-width="2.7"/>
</g>
<rect x="181.2" y="29.4" width="488.2" height="437.0" fill="none" stroke="#000" stroke-width="2"/>
<path d="M181.20,466.40v7.5M181.20,29.40v7.5M181.20,466.40h-8.5M669.40,466.40h-7.5M221.88,466.40v4.0M221.88,29.40v4.0M181.20,429.98h-5.0M669.40,429.98h-4.0M262.57,466.40v7.5M262.57,29.40v7.5M181.20,393.57h-8.5M669.40,393.57h-7.5M303.25,466.40v4.0M303.25,29.40v4.0M181.20,357.15h-5.0M669.40,357.15h-4.0M343.93,466.40v7.5M343.93,29.40v7.5M181.20,320.73h-8.5M669.40,320.73h-7.5M384.62,466.40v4.0M384.62,29.40v4.0M181.20,284.32h-5.0M669.40,284.32h-4.0M425.30,466.40v7.5M425.30,29.40v7.5M181.20,247.90h-8.5M669.40,247.90h-7.5M465.98,466.40v4.0M465.98,29.40v4.0M181.20,211.48h-5.0M669.40,211.48h-4.0M506.67,466.40v7.5M506.67,29.40v7.5M181.20,175.07h-8.5M669.40,175.07h-7.5M547.35,466.40v4.0M547.35,29.40v4.0M181.20,138.65h-5.0M669.40,138.65h-4.0M588.03,466.40v7.5M588.03,29.40v7.5M181.20,102.23h-8.5M669.40,102.23h-7.5M628.72,466.40v4.0M628.72,29.40v4.0M181.20,65.82h-5.0M669.40,65.82h-4.0M669.40,466.40v7.5M669.40,29.40v7.5M181.20,29.40h-8.5M669.40,29.40h-7.5" stroke="#000" stroke-width="2" fill="none"/>
<g font-size="24"><text x="177.7" y="498.0" text-anchor="middle">-600</text><text x="259.1" y="498.0" text-anchor="middle">-400</text><text x="340.4" y="498.0" text-anchor="middle">-200</text><text x="425.3" y="498.0" text-anchor="middle">0</text><text x="506.7" y="498.0" text-anchor="middle">200</text><text x="588.0" y="498.0" text-anchor="middle">400</text><text x="669.4" y="498.0" text-anchor="middle">600</text><text x="168.2" y="474.4" text-anchor="end">-600</text><text x="168.2" y="401.6" text-anchor="end">-400</text><text x="168.2" y="328.7" text-anchor="end">-200</text><text x="168.2" y="255.9" text-anchor="end">0</text><text x="168.2" y="183.1" text-anchor="end">200</text><text x="168.2" y="110.2" text-anchor="end">400</text><text x="168.2" y="37.4" text-anchor="end">600</text></g>
<g font-size="21.5">
<path d="M383.4,376.2H430" stroke="#ff0000" stroke-width="3.9" stroke-linecap="round" stroke-dasharray="0.01 7.7" fill="none"/>
<path d="M383.5,405.8H432" stroke="#0000ff" stroke-width="2.8" stroke-linecap="round" fill="none"/>
<path d="M383.5,435.2H432" stroke="#000" stroke-width="2.8" stroke-linecap="round" fill="none"/>
<text x="436.8" y="384">2.0 eV</text><text x="436.8" y="413.4">1.5 eV</text><text x="436.8" y="442.7">0.5 eV</text>
</g>
<text x="393.3" y="552.8" font-size="39.4">k<tspan font-size="26.5" dy="9.8">x</tspan><tspan dy="-9.8">/k</tspan><tspan font-size="26.5" dy="9.8">0</tspan></text>
<text transform="translate(102,278.3) rotate(-90)" font-size="39.4">k<tspan font-size="26.5" dy="9.8">y</tspan><tspan dy="-9.8">/k</tspan><tspan font-size="26.5" dy="9.8">0</tspan></text>
</g>


<g id="pb">
<path d="M841.4,199.0L1144.0,89.3L1381.3,238.7L1066.9,370.7ZM1229.9,302.3l-8.4,-6.4M950.0,281.7l9.7,-4.1" fill="none" stroke="#989894" stroke-width="1.45"/>
<ellipse cx="1108.6" cy="212.3" rx="194.6" ry="99.7" fill="#000083"/>
<g clip-path="url(#clb)">
 <g transform="rotate(31.6 1107.0 206.2)">
  <g filter="url(#b10)">
   <ellipse cx="1115.0" cy="206.2" rx="164" ry="54" fill="#0000b0"/>
   <ellipse cx="1115.0" cy="206.2" rx="158" ry="43" fill="#0000e0"/>
   <ellipse cx="1117.0" cy="206.2" rx="152" ry="34" fill="#0014ff"/>
  </g>
  <g filter="url(#b6)">
   <ellipse cx="1119.0" cy="206.2" rx="146" ry="27" fill="#0048ff"/>
   <ellipse cx="1121.0" cy="206.2" rx="134" ry="21" fill="#0078ff"/>
   <ellipse cx="1119.0" cy="206.2" rx="112" ry="16.5" fill="#00a0ff"/>
   <ellipse cx="1113.0" cy="206.2" rx="78" ry="14.5" fill="#00c8ff"/>
  </g>
  <g filter="url(#b3)">
   <ellipse cx="1110.0" cy="206.2" rx="48" ry="13" fill="#00e8ff"/>
   <ellipse cx="1108.0" cy="206.2" rx="24" ry="11" fill="#40ffc0"/>
  </g>
 </g>
 <g filter="url(#b2)">
  <ellipse cx="1107.0" cy="206.2" rx="15" ry="7.5" fill="#90ff70" transform="rotate(-8 1107.0 206.2)"/>
  <ellipse cx="1107.0" cy="206.2" rx="12.5" ry="5.6" fill="#f0f010" transform="rotate(-10 1107.0 206.2)"/>
 </g>
 <ellipse cx="1107.0" cy="206.5" rx="7.5" ry="2.6" fill="#ffc400" filter="url(#b1)" transform="rotate(-14 1107.0 206.2)"/>
</g>
<g font-size="36" transform="translate(0.4 0.7)">
<text x="810.5" y="201.5">5</text><text x="1395.5" y="249.5">5</text>
<text x="1097" y="84.5">-5</text><text x="1159" y="91.5" transform="rotate(4 1175 80)">-5</text>
</g>
<text transform="translate(1199.5,361.0) rotate(-23.3)" font-size="36">x <tspan font-size="35" dx="0.5" dy="-0.5">×</tspan><tspan dy="0.5" dx="-0.5">10</tspan><tspan font-size="24.5" dy="-11.5">-8</tspan><tspan dy="11.5">m</tspan></text>
<text transform="translate(880.0,283.8) rotate(37.2)" font-size="36">y <tspan font-size="35" dx="0.5" dy="-0.5">×</tspan><tspan dy="0.5" dx="-0.5">10</tspan><tspan font-size="24.5" dy="-11.5">-8</tspan><tspan dy="11.5">m</tspan></text>
</g>


<g id="pc">
<path d="M123.9,796.6L438.4,682.7L687.1,838.4L359.5,977.0ZM529.4,905.1l-8.3,-6.4M237.3,883.5l9.7,-4.1" fill="none" stroke="#989894" stroke-width="1.45"/>
<ellipse cx="401.3" cy="811.3" rx="202.7" ry="103.9" fill="url(#cA)"/>
<g clip-path="url(#clc)">
 <!-- bright bands -->
 <g filter="url(#b10)">
  <path d="M402.1,805.1 L102.3,794.6 L102.9,783.1 L104.0,771.7 L105.5,760.2 L107.4,748.9 L109.8,737.6 L112.6,726.4 L115.8,715.4 L119.5,704.5 L123.6,693.7 L128.0,683.1Z" fill="url(#cB)"/>
  <path d="M402.1,805.1 L701.4,826.0 L700.6,835.4 L699.5,844.8 L698.1,854.1 L696.4,863.4 L694.4,872.6 L692.1,881.7 L689.6,890.8 L686.8,899.8 L683.6,908.7 L680.3,917.5Z" fill="url(#cB)"/>
  <path d="M402.1,805.1 L217.4,568.7 L230.9,558.8 L244.9,549.6 L259.4,541.2 L274.4,533.7 L289.7,526.9 L305.4,521.1 L321.4,516.2 L337.7,512.1 L354.1,509.0 L370.7,506.7Z" fill="url(#cB)"/>
  <path d="M402.1,805.1 L569.9,1053.8 L556.6,1062.3 L542.9,1070.0 L528.9,1077.0 L514.5,1083.3 L499.8,1088.8 L484.8,1093.5 L469.6,1097.4 L454.2,1100.5 L438.7,1102.9 L423.0,1104.4Z" fill="url(#cB)"/>
 </g>
 <!-- dark acute wedges -->
 <g filter="url(#b6)">
  <path d="M368.7,777.0 L88.6,669.5 L95.1,654.0 L102.4,638.9 L110.5,624.3 L119.4,610.1 L129.1,596.5 L139.6,583.4 L150.7,570.9 L162.6,559.0 L175.1,547.9 L188.2,537.4Z" fill="#084cea"/>
  <path d="M431.0,834.0 L725.5,891.2 L719.9,914.7 L712.5,937.6 L703.3,959.8 L692.4,981.3 L679.7,1001.8 L665.5,1021.2 L649.7,1039.4 L632.5,1056.2 L614.0,1071.7 L594.4,1085.6Z" fill="#084cea"/>
 </g>
 <g filter="url(#b10)">
  <path d="M350.7,765.0 L76.6,643.0 L82.2,631.1 L88.3,619.6 L94.9,608.3 L102.0,597.2 L109.5,586.6 L117.6,576.2 L126.0,566.2 L134.9,556.6 L144.2,547.4 L153.9,538.6Z" fill="#0220c8"/>
  <path d="M453.0,850.0 L742.8,927.6 L737.2,946.2 L730.4,964.3 L722.4,982.0 L713.3,999.1 L703.2,1015.6 L692.0,1031.4 L679.8,1046.4 L666.6,1060.6 L652.6,1074.0 L637.7,1086.4Z" fill="#0220c8"/>
 </g>
 <!-- rounded-parallelogram dark lines -->
 <g filter="url(#b3)" fill="none" stroke="#0234d8" stroke-linecap="round" stroke-linejoin="round" opacity="0.75">
  <path d="M258,774 C255,802 254,825 256.5,842 C259,860 268,868 290,872.5 C320,878 360,881 402,884.5" stroke-width="6.5"/>
  <path d="M408,730.5 C450,736 490,741 520,744.5 C538,747 545,754 545.5,770 C546,785 547,798 548,812" stroke-width="6.5"/>
 </g>
 <!-- green-yellow glow near centre -->
 <g filter="url(#b10)">
  <ellipse cx="402.1" cy="805.1" rx="52" ry="17" fill="#30ffd0" transform="rotate(26 402.1 805.1)"/>
 </g>
 <g filter="url(#b6)">
  <ellipse cx="402.1" cy="805.1" rx="58" ry="6" fill="#60ffa0" transform="rotate(22 402.1 805.1)"/>
  <ellipse cx="402.1" cy="805.1" rx="36" ry="7" fill="#60ffa0" transform="rotate(52 402.1 805.1)"/>
  <ellipse cx="402.1" cy="805.1" rx="30" ry="6" fill="#60ffa0" transform="rotate(70 402.1 805.1)"/>
 </g>
 <g filter="url(#b3)">
  <ellipse cx="402.1" cy="805.1" rx="24" ry="3.4" fill="#a8ff58" transform="rotate(24 402.1 805.1)"/>
  <ellipse cx="402.1" cy="805.1" rx="14" ry="4" fill="#a8ff58" transform="rotate(60 402.1 805.1)"/>
 </g>
 <ellipse cx="402.1" cy="805.1" rx="6.2" ry="2.8" fill="#f4ec10" filter="url(#b1)" transform="rotate(-12 402.1 805.1)"/>
 <ellipse cx="402.1" cy="805.1" rx="3.4" ry="1.4" fill="#ff8c00" filter="url(#b1)" transform="rotate(-15 402.1 805.1)"/>
 <!-- rim darkening -->
 <ellipse cx="401.3" cy="811.3" rx="205.7" ry="106.9" fill="none" stroke="#0028d8" stroke-width="10" filter="url(#b6)"/>
</g>
<g font-size="36" transform="translate(0.4 0.7)">
<text x="102" y="793">5</text><text x="688" y="838.5">5</text>
<text x="389" y="674.5">-5</text><text x="452" y="681.5" transform="rotate(4 468 670)">-5</text>
</g>
<text transform="translate(490.0,963.0) rotate(-23.3)" font-size="36">x <tspan font-size="35" dx="0.5" dy="-0.5">×</tspan><tspan dy="0.5" dx="-0.5">10</tspan><tspan font-size="24.5" dy="-11.5">-8</tspan><tspan dy="11.5">m</tspan></text>
<text transform="translate(157.3,871.8) rotate(37.2)" font-size="36">y <tspan font-size="35" dx="0.5" dy="-0.5">×</tspan><tspan dy="0.5" dx="-0.5">10</tspan><tspan font-size="24.5" dy="-11.5">-8</tspan><tspan dy="11.5">m</tspan></text>
</g>


<g id="pd">
<path d="M878.4,811.4L1183.5,700.5L1422.4,852.8L1105.4,985.5ZM1269.8,916.7l-8.3,-6.4M987.7,895.2l9.7,-4.1" fill="none" stroke="#989894" stroke-width="1.45"/>
<ellipse cx="1147.6" cy="826.1" rx="195.8" ry="101.3" fill="#0028e8"/>
<g clip-path="url(#cld)">
 <rect x="940" y="715" width="420" height="225" fill="url(#dC)"/>
 <g filter="url(#b10)">
  <path d="M1148.0,819.8 L1240.1,1136.7 L1208.1,1144.3 L1175.6,1148.6 L1142.8,1149.8 L1110.1,1147.6 L1077.7,1142.2 L1046.0,1133.6 L1015.4,1122.0 L986.0,1107.3 L958.2,1089.8 L932.4,1069.6Z" fill="url(#dB)"/>
  <path d="M1148.0,819.8 L866.9,992.7 L853.7,969.1 L842.5,944.5 L833.3,919.0 L826.2,892.9 L821.3,866.3 L818.6,839.4 L818.1,812.3 L819.8,785.3 L823.7,758.5 L829.8,732.2Z" fill="url(#dB)"/>
  <path d="M1148.0,819.8 L1041.7,507.4 L1075.5,497.9 L1110.1,492.0 L1145.1,489.8 L1180.2,491.4 L1214.9,496.7 L1248.9,505.6 L1281.7,518.1 L1313.0,534.0 L1342.4,553.2 L1369.7,575.3Z" fill="url(#dB)"/>
  <path d="M1148.0,819.8 L1424.0,638.9 L1437.9,662.1 L1449.8,686.4 L1459.7,711.5 L1467.6,737.5 L1473.2,763.9 L1476.7,790.8 L1478.0,817.8 L1477.0,844.8 L1473.9,871.7 L1468.5,898.2Z" fill="url(#dB)"/>
 </g>
 <g filter="url(#b6)">
  <path d="M1148.0,819.8 L1240.1,1136.7 L1221.7,1141.5 L1203.0,1145.2 L1184.2,1147.8 L1165.3,1149.3 L1146.3,1149.8 L1127.3,1149.1 L1108.4,1147.4 L1089.6,1144.6 L1071.0,1140.7 L1052.6,1135.7Z" fill="url(#dA)"/>
  <path d="M1148.0,819.8 L820.9,863.4 L819.4,850.3 L818.5,837.1 L818.0,823.8 L818.1,810.6 L818.8,797.4 L819.9,784.2 L821.6,771.0 L823.8,758.0 L826.6,745.0 L829.8,732.2Z" fill="url(#dA)"/>
  <path d="M1148.0,819.8 L1041.7,507.4 L1062.0,501.2 L1082.8,496.3 L1103.8,492.8 L1125.0,490.6 L1146.3,489.8 L1167.6,490.4 L1188.8,492.3 L1209.8,495.6 L1230.6,500.3 L1251.1,506.3Z" fill="url(#dA)"/>
  <path d="M1148.0,819.8 L1473.7,766.8 L1475.6,779.9 L1476.9,793.0 L1477.7,806.3 L1478.0,819.5 L1477.7,832.8 L1477.0,846.0 L1475.6,859.2 L1473.8,872.3 L1471.4,885.3 L1468.5,898.2Z" fill="url(#dA)"/>
 </g>
 <g filter="url(#b6)">
  <ellipse cx="1148.0" cy="819.8" rx="24" ry="10" fill="#40ffc8"/>
  <ellipse cx="1148.0" cy="819.8" rx="46" ry="4.5" fill="#40ffc8" transform="rotate(11.5 1148.0 819.8)"/>
  <ellipse cx="1148.0" cy="819.8" rx="26" ry="4.5" fill="#40ffc8" transform="rotate(76 1148.0 819.8)"/>
 </g>
 <g filter="url(#b3)">
  <ellipse cx="1148.0" cy="819.8" rx="12" ry="5" fill="#80ff90"/>
  <ellipse cx="1148.0" cy="819.8" rx="22" ry="2.5" fill="#80ff90" transform="rotate(11.5 1148.0 819.8)"/>
 </g>
 <!-- dark wedges -->
 <g filter="url(#b2)">
  <path d="M1149.5,820.8 L1471.1,894.8 L1460.8,930.3 L1446.6,964.5 L1428.6,996.9 L1407.1,1027.1 L1382.3,1054.7 L1354.7,1079.3 L1324.4,1100.6 L1291.9,1118.5 L1257.7,1132.6 L1222.0,1142.7Z" fill="url(#dW)"/>
  <path d="M1146.5,818.8 L824.6,746.3 L834.9,710.3 L849.1,675.7 L867.3,643.0 L889.0,612.5 L914.0,584.6 L942.0,559.8 L972.6,538.3 L1005.5,520.5 L1040.2,506.4 L1076.2,496.4Z" fill="url(#dW)"/>
 </g>
 <!-- rim -->
 <ellipse cx="1147.6" cy="826.1" rx="195.8" ry="101.3" fill="none" stroke="#0018d0" stroke-width="6" filter="url(#b3)" opacity="0.5"/>
 <g filter="url(#b2)">
  <ellipse cx="1148.0" cy="819.8" rx="7" ry="3" fill="#d8f830"/>
 </g>
 <ellipse cx="1148.0" cy="819.8" rx="5" ry="2" fill="#ffdc00" filter="url(#b1)"/><ellipse cx="1147.7" cy="819.8" rx="2.8" ry="1.1" fill="#ff7000" filter="url(#b1)"/>
</g>
<g font-size="36" transform="translate(0.4 0.7)">
<text x="845.5" y="820">5</text><text x="1428" y="864">5</text>
<text x="1139" y="697">-5</text><text x="1201" y="704" transform="rotate(4 1217 693)">-5</text>
</g>
<text transform="translate(1229.6,973.2) rotate(-23.3)" font-size="36">x <tspan font-size="35" dx="0.5" dy="-0.5">×</tspan><tspan dy="0.5" dx="-0.5">10</tspan><tspan font-size="24.5" dy="-11.5">-8</tspan><tspan dy="11.5">m</tspan></text>
<text transform="translate(897.7,888.0) rotate(36.6)" font-size="36">y <tspan font-size="35" dx="0.5" dy="-0.5">×</tspan><tspan dy="0.5" dx="-0.5">10</tspan><tspan font-size="24.5" dy="-11.5">-8</tspan><tspan dy="11.5">m</tspan></text>
</g>


<g id="cb">
<rect x="1429.2" y="294.3" width="24" height="451" fill="url(#jet)" stroke="#000" stroke-width="1.6"/>
<path d="M1429.2,670.1h4.5M1453.2,670.1h-4.5M1429.2,595.2h4.5M1453.2,595.2h-4.5M1429.2,520.3h4.5M1453.2,520.3h-4.5M1429.2,445.4h4.5M1453.2,445.4h-4.5M1429.2,370.5h4.5M1453.2,370.5h-4.5" stroke="#000" stroke-width="1" fill="none"/>
<g font-size="29.7">
<text x="1462.2" y="309">24</text><text x="1460" y="455">22</text><text x="1460" y="604.6">20</text><text x="1462.2" y="751.8">18</text>
</g>
<text transform="translate(1412,577.0) rotate(-90)" font-size="40.5" letter-spacing="0.65">E (Vm<tspan font-size="29" dy="-12.5">-1</tspan><tspan dy="12.5">)</tspan></text>
</g>


<g font-size="52">
<text x="1.5" y="41">a</text><text x="773.6" y="41">b</text><text x="1.2" y="640.4" font-size="54">c</text><text x="770.5" y="641.2">d</text>
</g>
<g font-size="40" text-anchor="middle">
<text x="1131.5" y="446.9">ω = 0.5 eV</text><text x="383.5" y="1052.1">ω = 1.5 eV</text><text x="1143.5" y="1052.1">ω = 2.0 eV</text>
</g>

</svg>
</body></html>
